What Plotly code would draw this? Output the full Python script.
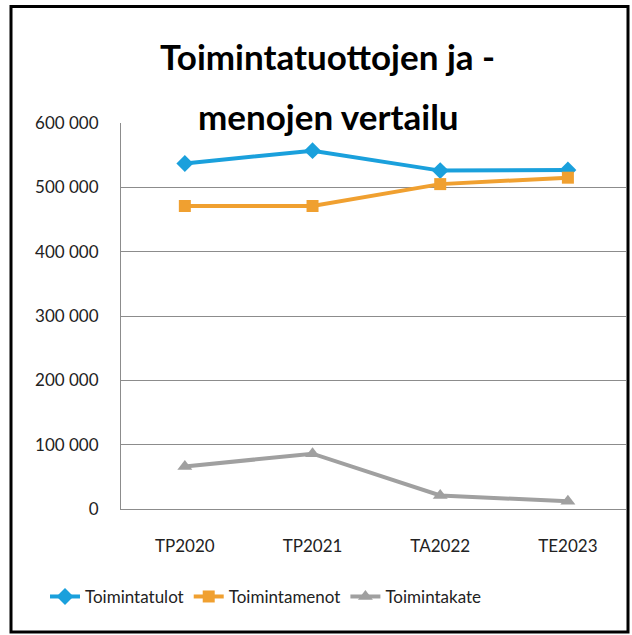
import plotly.graph_objects as go

categories = ["TP2020", "TP2021", "TA2022", "TE2023"]
toimintatulot = [537000, 557000, 526000, 527000]
toimintamenot = [471000, 471000, 505000, 515000]
toimintakate = [66000, 86000, 21000, 12000]
y_tickvals = [0, 100000, 200000, 300000, 400000, 500000, 600000]
y_ticktext = ["0", "100 000", "200 000", "300 000", "400 000", "500 000", "600 000"]
title_line1 = "Toimintatuottojen ja -"
title_line2 = "menojen vertailu"

W, H = 632, 635
L, R, T, B = 121, 626, 122.7, 509
pw, ph = R - L, B - T

def px(x):
    return (x - L) / pw

def py(y):
    return (B - y) / ph

FONT = "Lato"

fig = go.Figure()
fig.add_trace(go.Scatter(x=categories, y=toimintatulot, name="Toimintatulot", mode="lines+markers",
                         line=dict(color="#1aa0dc", width=4),
                         marker=dict(symbol="diamond", size=13, color="#1aa0dc")))
fig.add_trace(go.Scatter(x=categories, y=toimintamenot, name="Toimintamenot", mode="lines+markers",
                         line=dict(color="#f0a030", width=4),
                         marker=dict(symbol="square", size=12, color="#f0a030")))
fig.add_trace(go.Scatter(x=categories, y=toimintakate, name="Toimintakate", mode="lines+markers",
                         line=dict(color="#a0a0a0", width=4),
                         marker=dict(symbol="triangle-up", size=13, color="#a0a0a0")))

fig.update_layout(
    width=W, height=H,
    margin=dict(l=L, r=W - R, t=T, b=H - B, pad=0),
    paper_bgcolor="white", plot_bgcolor="white",
    font=dict(family=FONT, size=17, color="#222222"),
    showlegend=True,
    legend=dict(orientation="h", x=px(266), y=py(597), xanchor="center", yanchor="middle",
                font=dict(family=FONT, size=17, color="#222222"),
                itemwidth=30, tracegroupgap=0, bgcolor="rgba(0,0,0,0)"),
    xaxis=dict(type="category", range=[-0.5, 3.455], showgrid=False, showline=True,
               linecolor="#8c8c8c", linewidth=1, ticks="", ticklabelstandoff=22,
               tickfont=dict(family=FONT, size=17, color="#222222"), fixedrange=True),
    yaxis=dict(range=[0, 600000], tickvals=y_tickvals, ticktext=y_ticktext,
               showgrid=True, gridcolor="#8c8c8c", gridwidth=1, zeroline=False,
               showline=True, linecolor="#8c8c8c", linewidth=1, ticks="",
               ticklabelstandoff=18,
               tickfont=dict(family=FONT, size=17, color="#222222"), fixedrange=True),
    shapes=[dict(type="rect", xref="paper", yref="paper",
                 x0=px(11), x1=px(628), y0=py(632), y1=py(6),
                 line=dict(color="black", width=3), fillcolor="rgba(0,0,0,0)", layer="above")],
    annotations=[
        dict(text="<b>" + title_line1 + "</b>", xref="paper", yref="paper", x=px(327), y=py(56),
             xanchor="center", yanchor="middle", showarrow=False,
             font=dict(family=FONT, size=35, color="black")),
        dict(text="<b>" + title_line2 + "</b>", xref="paper", yref="paper", x=px(328), y=py(116),
             xanchor="center", yanchor="middle", showarrow=False,
             font=dict(family=FONT, size=35, color="black")),
    ],
)

fig.write_html("out.html", config={"displayModeBar": False},
               post_script="document.body.style.margin='0';document.body.style.overflow='hidden';")
